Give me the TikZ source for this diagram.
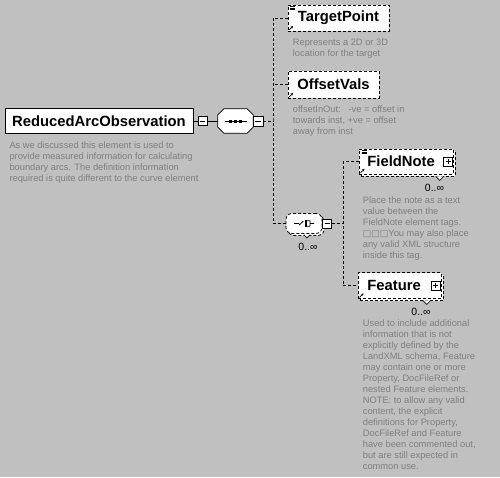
\documentclass[tikz,border=0pt]{standalone}
\usepackage{fontspec}
\setmainfont{Liberation Sans}
\newfontfamily\boxglyph{DejaVu Sans}
\usetikzlibrary{positioning,shadows,arrows.meta,calc}
\definecolor{panel}{RGB}{192,192,192}
\definecolor{noteink}{RGB}{128,128,128}

\begin{document}
\begin{tikzpicture}[x=1pt,y=-1pt,
  every node/.style={font=\fontsize{9.3}{11}\selectfont},
  elem/.style={draw=black,fill=white,line width=0.8pt,inner sep=0pt,font=\bfseries\fontsize{14.8}{17}\selectfont},
  optelem/.style={elem,dash pattern=on 3pt off 2pt},
  manyelem/.style={optelem,general shadow={shadow xshift=2pt,shadow yshift=-2pt,fill=white,draw=black,line width=0.8pt,dash pattern=on 3pt off 2pt}},
  seqbox/.style={minimum width=35pt,minimum height=24pt,inner sep=0pt},
  choicebox/.style={rectangle,rounded corners=6pt,draw=black,fill=white,line width=0.8pt,dash pattern=on 3pt off 2pt,minimum width=36pt,minimum height=20pt,inner sep=0pt,
    general shadow={shadow xshift=2pt,shadow yshift=-2pt,fill=white,draw=black,line width=0.8pt,dash pattern=on 3pt off 2pt}},
  pmbox/.style={draw=black,fill=white,line width=0.6pt,minimum size=9pt,inner sep=0pt},
  minusbox/.style={pmbox,path picture={\draw[line width=0.6pt] ($(path picture bounding box.west)+(2,0)$) -- ($(path picture bounding box.east)+(-2,0)$);}},
  plusbox/.style={pmbox,path picture={\draw[line width=0.6pt] ($(path picture bounding box.west)+(2,0)$) -- ($(path picture bounding box.east)+(-2,0)$) ($(path picture bounding box.north)+(0,2)$) -- ($(path picture bounding box.south)+(0,-2)$);}},
  note/.style={text=noteink,align=left,anchor=north west,inner sep=0pt,font=\fontsize{9.3}{11}\selectfont},
  mult/.style={inner sep=0pt,font=\fontsize{10.5}{12}\selectfont},
  link/.style={line width=0.8pt,dash pattern=on 3pt off 2pt},
  solidlink/.style={line width=0.8pt}
]
\fill[panel] (0,0) rectangle (500,477);

% root element and its sequence
\node[elem,minimum width=188pt,minimum height=25pt] (main) at (99,121) {ReducedArcObservation};
\node[minusbox] (mainminus) at (202.5,121) {};
\node[seqbox] (seq) at (235.5,121) {};
\filldraw[fill=white,line width=0.8pt] ($(seq.north west)+(6,0)$) -- ($(seq.north east)+(-6,0)$) -- ($(seq.north east)+(0,6)$)
  -- ($(seq.south east)+(0,-6)$) -- ($(seq.south east)+(-6,0)$) -- ($(seq.south west)+(6,0)$)
  -- ($(seq.south west)+(0,-6)$) -- ($(seq.north west)+(0,6)$) -- cycle;
\node[minusbox,minimum size=10pt] (seqminus) at (258,121) {};
\coordinate (spine) at (273,121);
\node[note] (mainnote) at (9.3,141.5) {As we discussed this element is used to\\provide measured information for calculating\\boundary arcs. The definition information\\required is quite different to the curve element};

% children of the sequence
\node[optelem,minimum width=101pt,minimum height=26pt] (tp) at (338.5,18) {TargetPoint};
\node[note] (tpnote) at (292.7,39.3) {Represents a 2D or 3D\\location for the target};
\node[optelem,minimum width=91pt,minimum height=27pt] (ov) at (333.5,84.5) {OffsetVals};
\node[note] (ovnote) at (292.7,106) {offsetInOut:\ \ \ -ve = offset in\\towards inst, +ve = offset\\away from inst};
\node[choicebox] (choice) at (304,223.5) {};
\node[minusbox] (chminus) at (327,223.5) {};
\node[mult] (chmult) at (308,247) {0..∞};
\coordinate (branch) at (343,223.5);

% children of the choice
\node[manyelem,anchor=west,text width=78pt,inner xsep=8pt,align=left,minimum height=25pt] (fn) at (359,161.5) {FieldNote};
\node[plusbox] (fnplus) at (448,161.5) {};
\node[mult] (fnmult) at (434.5,188) {0..∞};
\node[note] (fnnote) at (362.7,196.7) {Place the note as a text\\value between the\\FieldNote element tags.\\{\boxglyph\fontsize{9}{11}\selectfont □□□}You may also place\\any valid XML structure\\inside this tag.};
\node[manyelem,anchor=west,text width=65pt,inner xsep=9pt,align=left,minimum height=26pt] (ft) at (358,285.5) {Feature};
\node[plusbox] (ftplus) at (435.5,285.5) {};
\node[mult] (ftmult) at (421,312.3) {0..∞};
\node[note] (ftnote) at (362.7,320) {Used to include additional\\information that is not\\explicitly defined by the\\LandXML schema, Feature\\may contain one or more\\Property, DocFileRef or\\nested Feature elements.\\NOTE: to allow any valid\\content, the explicit\\definitions for Property,\\DocFileRef and Feature\\have been commented out,\\but are still expected in\\common use.};

% connectors
\draw[solidlink] (main.east) -- (mainminus.west);
\draw[solidlink] (mainminus.east) -- (seq.west);
\draw[link] (seqminus.east) -- (spine);
\draw[link] (tp.west) -| (spine) |- (choice.west);
\draw[link] (ov.west) -- (ov.west -| spine);
\draw[link] (chminus.east) -- (branch);
\draw[link] (fn.west) -| (branch) |- (ft.west);

% compositor symbols
\draw[line width=0.8pt] ($(seq.center)+(-11,0)$) -- ($(seq.center)+(11,0)$);
\foreach \dx in {-5,0,5}
  \fill ($(seq.center)+(\dx,0)+(-1.5,-1.5)$) rectangle +(3,3);
\draw[line width=0.8pt] ($(choice.center)+(-10,0)$) -- ($(choice.center)+(-5,0)$)
  ($(choice.center)+(-5,1.7)$) -- ($(choice.center)+(-0.7,-2.3)$)
  ($(choice.center)+(2.7,-2.7)$) -- ($(choice.center)+(6,-2.7)$) -- ($(choice.center)+(6,2.7)$) -- ($(choice.center)+(2.7,2.7)$)
  ($(choice.center)+(6,0)$) -- ($(choice.center)+(10,0)$);
\foreach \dy in {-2.7,0,2.7}
  \fill ($(choice.center)+(0.6,\dy)+(0,-1.1)$) rectangle +(2.2,2.2);

% occurrence pointers
\filldraw[fill=white,line width=0.6pt] ($(choice.south)+(0,1)$) -- ++(3,3) -- ++(3,-3);
\filldraw[fill=white,line width=0.6pt] ($(fn.south east)+(-18,2)$) -- ++(4,4) -- ++(4,-4);
\filldraw[fill=white,line width=0.6pt] ($(ft.south east)+(-19,1.5)$) -- ++(4,4) -- ++(4,-4);

% element marks
\foreach \n in {tp,ov,fn,ft}
  \draw[line width=0.7pt,-{Stealth[length=2.5pt,width=2.5pt]}] ($(\n.south west)+(1.5,-1.5)$) -- ++(4,-4);
\foreach \n in {tp,fn}
  \foreach \dy in {1.6,3.2,4.8}
    \draw[line width=0.5pt] ($(\n.north west)+(2.5,\dy)$) -- ++(5,0);
\end{tikzpicture}
\end{document}
